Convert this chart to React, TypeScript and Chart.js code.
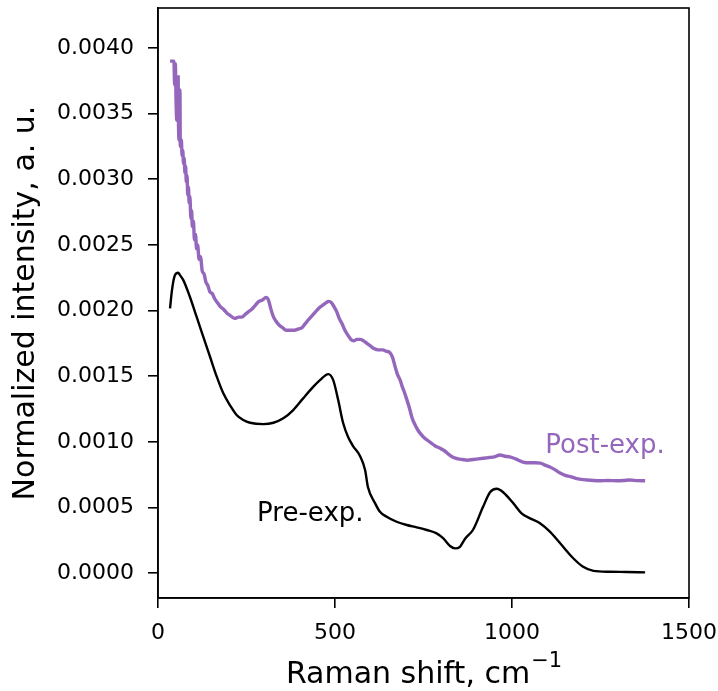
import React, { useEffect, useRef } from "react";
import { Chart, registerables } from "chart.js";

Chart.register(...registerables);

// Raman shift (cm^-1) and normalized intensity, sample after the experiment
const postShift = [
  34, 40, 45, 47, 49, 51, 53, 55, 57, 58, 60, 62, 63, 66, 68, 70, 72, 74, 76, 78,
  80, 82, 84, 86, 88, 90, 93, 95, 97, 100, 103, 106, 109, 112, 116, 120, 125, 130,
  135, 141, 147, 153, 160, 168, 176, 185, 195, 205, 217, 228, 237, 246, 255, 265,
  275, 285, 295, 305, 312, 318, 325, 333, 342, 352, 362, 372, 385, 397, 407, 416,
  425, 435, 445, 455, 465, 475, 482, 490, 497, 505, 512, 520, 528, 537, 545, 553,
  562, 571, 580, 590, 600, 610, 622, 635, 645, 655, 663, 670, 677, 684, 690, 697,
  703, 710, 718, 726, 734, 742, 752, 762, 772, 782, 797, 810, 823, 835, 848, 860,
  873, 890, 905, 920, 935, 950, 966, 980, 994, 1010, 1031, 1050, 1065, 1080, 1095,
  1107, 1120, 1136, 1150, 1165, 1180, 1195, 1212, 1230, 1250, 1270, 1297, 1315,
  1333, 1355, 1376,
];
const postIntensity = [
  0.0039, 0.0039, 0.0039, 0.00372, 0.00388, 0.0036, 0.00345, 0.00362, 0.00378,
  0.0034, 0.0033, 0.00368, 0.00325, 0.0033, 0.00318, 0.00322, 0.00312, 0.00316,
  0.00305, 0.0031, 0.00298, 0.00303, 0.00288, 0.00294, 0.00282, 0.00287, 0.0027,
  0.00276, 0.00264, 0.00268, 0.00254, 0.00258, 0.00247, 0.0025, 0.00239, 0.00241,
  0.0023, 0.00228, 0.00222, 0.00219, 0.00214, 0.00213, 0.00209, 0.00206, 0.00203,
  0.00201, 0.00198, 0.00196, 0.00194, 0.00195, 0.00195, 0.00197, 0.00199, 0.00201,
  0.00204, 0.00207, 0.00208, 0.0021, 0.00208, 0.00202, 0.00196, 0.00192, 0.00189,
  0.00187, 0.00185, 0.00185, 0.00185, 0.00186, 0.00187, 0.0019, 0.00193, 0.00196,
  0.00199, 0.00202, 0.00204, 0.00206, 0.00207, 0.00206, 0.00203, 0.00199, 0.00194,
  0.0019, 0.00185, 0.00181, 0.00178, 0.00177, 0.00178, 0.00178, 0.00177, 0.00175,
  0.00173, 0.00171, 0.0017, 0.0017, 0.00169, 0.00168, 0.00164, 0.00157, 0.00151,
  0.00147, 0.00142, 0.00137, 0.00132, 0.00126, 0.00118, 0.00113, 0.00109, 0.00106,
  0.00103, 0.00101, 0.00099, 0.00097, 0.00095, 0.00093, 0.0009, 0.00088, 0.00087,
  0.000865, 0.00086, 0.000865, 0.00087, 0.000875, 0.00088, 0.000885, 0.0009,
  0.00089, 0.000885, 0.00087, 0.000846, 0.00084, 0.00084, 0.000838, 0.00082,
  0.000808, 0.00079, 0.000762, 0.000745, 0.000735, 0.000722, 0.000714, 0.000709,
  0.000705, 0.000703, 0.000705, 0.000703, 0.000705, 0.000709, 0.000704, 0.000703,
];

// Raman shift (cm^-1) and normalized intensity, sample before the experiment
const preShift = [
  34, 39.5, 48, 57, 62, 71.5, 90, 109, 128, 147, 166, 184.5, 203, 222, 241, 260,
  297.5, 326, 354, 382, 410, 439, 457.6, 481, 495, 509, 523, 537, 551, 571, 585,
  593, 613, 627, 646, 674, 702.5, 731, 759, 787, 806, 825, 839, 853, 867, 890, 918,
  938, 957, 975, 1004, 1027, 1051, 1079, 1107, 1136, 1173, 1201, 1230, 1277, 1324,
  1376,
];
const preIntensity = [
  0.002017, 0.002156, 0.00227, 0.002288, 0.00227, 0.002232, 0.002105, 0.001953,
  0.0018, 0.001648, 0.001496, 0.001369, 0.00128, 0.001204, 0.001166, 0.001145,
  0.001135, 0.001145, 0.001179, 0.001242, 0.001331, 0.00142, 0.00147, 0.001516,
  0.00147, 0.001318, 0.001143, 0.001036, 0.000968, 0.00089, 0.000785, 0.000655,
  0.000533, 0.000467, 0.000429, 0.000391, 0.000366, 0.000348, 0.000328, 0.000302,
  0.000264, 0.000206, 0.000188, 0.0002, 0.00026, 0.00033, 0.000503, 0.000616,
  0.000642, 0.000616, 0.000531, 0.000455, 0.000417, 0.000379, 0.000315, 0.000227,
  0.000113, 0.000048, 0.000017, 0.00001, 0.000008, 0.000005,
];

const xTicks = [0, 500, 1000, 1500];
const yTicks = [0, 0.0005, 0.001, 0.0015, 0.002, 0.0025, 0.003, 0.0035, 0.004];
const seriesNames = ["Pre-exp.", "Post-exp."];
const xTitle = "Raman shift, cm";
const xTitleSup = "\u22121";

const PURPLE = "#9467bd";
const FONT = "'DejaVu Sans', sans-serif";

// Where the series names are written, in data coordinates (left edge, baseline)
const nameAnchors = [
  { x: 280, y: 0.000396, color: "#000000" },
  { x: 1094, y: 0.000912, color: PURPLE },
];

const framePlugin = {
  id: "frame",
  afterDatasetsDraw(chart: any) {
    const { ctx, chartArea, scales } = chart;
    ctx.save();
    ctx.font = `26px ${FONT}`;
    ctx.textAlign = "left";
    ctx.textBaseline = "alphabetic";
    nameAnchors.forEach((a, i) => {
      ctx.fillStyle = a.color;
      ctx.fillText(seriesNames[i], scales.x.getPixelForValue(a.x), scales.y.getPixelForValue(a.y));
    });
    ctx.strokeStyle = "#000";
    ctx.lineWidth = 1.6;
    ctx.strokeRect(chartArea.left, chartArea.top, chartArea.right - chartArea.left, chartArea.bottom - chartArea.top);

    // x-axis title with a raised exponent
    ctx.fillStyle = "#000";
    const mainFont = `30px ${FONT}`;
    const supFont = `21px ${FONT}`;
    ctx.font = mainFont;
    const wMain = ctx.measureText(xTitle).width;
    ctx.font = supFont;
    const wSup = ctx.measureText(xTitleSup).width;
    const cx = (chartArea.left + chartArea.right) / 2;
    const x0 = cx - (wMain + wSup) / 2;
    const baseline = chart.height - 8;
    ctx.font = mainFont;
    ctx.fillText(xTitle, x0, baseline);
    ctx.font = supFont;
    ctx.fillText(xTitleSup, x0 + wMain + 1, baseline - 16);
    ctx.restore();
  },
};

export default function App() {
  const canvasRef = useRef<HTMLCanvasElement | null>(null);

  useEffect(() => {
    if (!canvasRef.current) return;
    const chart = new Chart(canvasRef.current, {
      type: "line",
      data: {
        datasets: [
          {
            label: seriesNames[0],
            data: preShift.map((x, i) => ({ x, y: preIntensity[i] })),
            borderColor: "#000000",
            borderWidth: 2.4,
            pointRadius: 0,
            cubicInterpolationMode: "monotone",
          },
          {
            label: seriesNames[1],
            data: postShift.map((x, i) => ({ x, y: postIntensity[i] })),
            borderColor: PURPLE,
            borderWidth: 3.4,
            pointRadius: 0,
            cubicInterpolationMode: "monotone",
          },
        ],
      },
      options: {
        animation: false,
        responsive: false,
        layout: { padding: { top: 8, right: 29, left: 0, bottom: 0 } },
        plugins: { legend: { display: false }, tooltip: { enabled: false } },
        scales: {
          x: {
            type: "linear",
            min: 0,
            max: 1500,
            afterFit: (s: any) => {
              s.height = 93;
              s.paddingLeft = 0;
              s.paddingRight = 0;
            },
            afterBuildTicks: (s: any) => {
              s.ticks = xTicks.map((v) => ({ value: v }));
            },
            border: { display: true, color: "#000", width: 1.6 },
            grid: { drawOnChartArea: false, drawTicks: true, tickLength: 10, color: "#000", lineWidth: 1.6 },
            ticks: {
              color: "#000",
              font: { family: FONT, size: 22 },
              padding: 12,
              maxRotation: 0,
              callback: (v: any) => String(v),
            },
            title: { display: false },
          },
          y: {
            type: "linear",
            min: -0.00019,
            max: 0.004305,
            afterFit: (s: any) => {
              s.width = 158;
              s.paddingTop = 0;
              s.paddingBottom = 0;
            },
            afterBuildTicks: (s: any) => {
              s.ticks = yTicks.map((v) => ({ value: v }));
            },
            border: { display: true, color: "#000", width: 1.6 },
            grid: { drawOnChartArea: false, drawTicks: true, tickLength: 10, color: "#000", lineWidth: 1.6 },
            ticks: {
              color: "#000",
              font: { family: FONT, size: 22 },
              padding: 14,
              callback: (v: any) => Number(v).toFixed(4),
            },
            title: {
              display: true,
              text: "Normalized intensity, a. u.",
              color: "#000",
              font: { family: FONT, size: 30 },
              padding: { top: 8, bottom: 0 },
            },
          },
        },
      },
      plugins: [framePlugin],
    });
    return () => chart.destroy();
  }, []);

  return (
    <div style={{ position: "fixed", left: 0, top: 0, width: 718, height: 691, background: "#fff" }}>
      <canvas ref={canvasRef} width={718} height={691} />
    </div>
  );
}
